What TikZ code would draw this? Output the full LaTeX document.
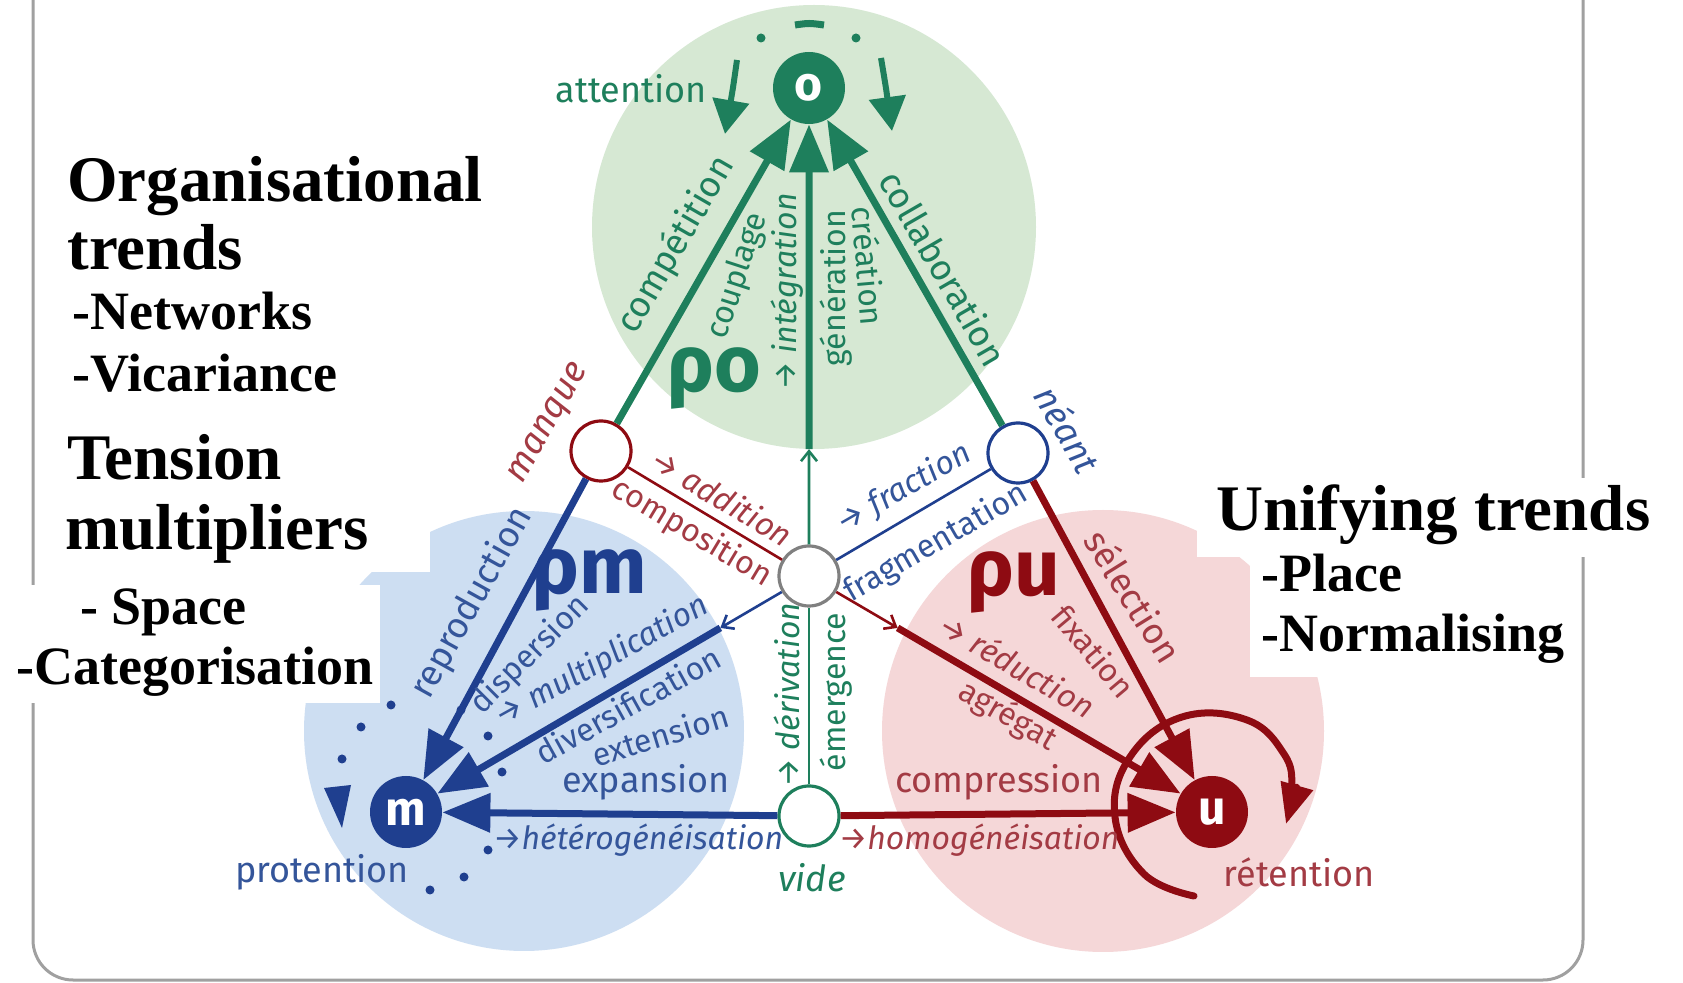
\documentclass[tikz,border=0pt]{standalone}
\usepackage{fontspec}
\setmainfont{Liberation Serif}
\newfontfamily\fira{Fira Sans}
\usetikzlibrary{arrows.meta,calc}
\definecolor{gdark}{HTML}{1E7F5C}
\definecolor{glight}{HTML}{D6E8D3}
\definecolor{bdark}{HTML}{1F3F8F}
\definecolor{blab}{HTML}{34559A}
\definecolor{blight}{HTML}{CDDEF2}
\definecolor{rdark}{HTML}{8E0B12}
\definecolor{rlab}{HTML}{A33B44}
\definecolor{plight}{HTML}{F5D7D8}
\definecolor{framegray}{HTML}{A0A0A0}
\begin{document}
\begin{tikzpicture}[x=0.5pt,y=-0.5pt,
  hub/.style={circle, minimum size=36pt, inner sep=0pt, text=white, font=\fira\fontsize{24}{24}\selectfont\bfseries},
  ring/.style={circle, minimum size=30pt, inner sep=0pt, fill=white, line width=1.6pt},
  lab/.style={font=\fira\fontsize{18}{20}\selectfont, inner sep=0pt},
  slab/.style={font=\fira\fontsize{16}{18}\selectfont, inner sep=0pt},
  bigl/.style={font=\fira\fontsize{40}{40}\selectfont\bfseries, inner sep=0pt},
  tarrow/.style={line width=3.5pt, -{Triangle[length=24pt,width=19pt]}},
  tline/.style={line width=1.3pt},
  smallhead/.style={-{Straight Barb[length=5pt,width=8pt]}},
  title/.style={font=\fontsize{32.5}{36}\selectfont\bfseries, anchor=base west, inner sep=0pt},
  subt/.style={font=\fontsize{27}{30}\selectfont\bfseries, anchor=base west, inner sep=0pt},
]
\useasboundingbox (0,0) rectangle (1683,983);
\fill[white] (0,0) rectangle (1683,983);
% frame
\draw[framegray, line width=1.5pt, rounded corners=20pt] (33,-60) rectangle (1583,980);
% big circles
\fill[glight] (814,227) circle (222);
\fill[blight] (524,731) circle (220);
\fill[plight] (1103,731) circle (221);
% white text boxes
\fill[white] (45,130) rectangle (430,572);
\fill[white] (0,585) rectangle (380,703);
\fill[white] (1197,478) rectangle (1660,557);
\fill[white] (1250,557) rectangle (1575,677);
% nodes
\node[hub, fill=gdark] (o) at (809,88) {o};
\node[hub, fill=bdark] (m) at (406,812) {m};
\node[hub, fill=rdark] (u) at (1212,812) {u};
\node[ring, draw=rdark] (manque) at (601,451) {};
\node[ring, draw=bdark] (neant) at (1018,453) {};
\node[ring, draw=gray] (C) at (809,576) {};
\node[ring, draw=gdark] (vide) at (809,816) {};
\coordinate (Po) at ($(C)!0.26!(o)$);
\coordinate (Pm) at ($(C)!0.22!(m)$);
\coordinate (Pu) at ($(C)!0.22!(u)$);
% decorations around o
\begin{scope}[shift={(o)}]
  \fill[gdark] (-48,-50) circle (4.5);
  \fill[gdark] (47,-50) circle (4.5);
  \draw[gdark, line width=3.5pt] (-14,-63) .. controls (0,-65) .. (15,-63);
  \draw[gdark, line width=3pt, -{Triangle[length=17pt,width=18pt]}] (-72,-28) .. controls (-76,0) .. (-84,46);
  \draw[gdark, line width=3pt, -{Triangle[length=17pt,width=18pt]}] (72,-30) .. controls (77,0) .. (83,43);
\end{scope}
% decorations around m
\begin{scope}[shift={(m)}]
  \foreach \p in {(-15,-107),(-45,-85),(-64,-53),(55,-102),(82,-76),(96,-40),(82,38),(24,78),(58,65)}
    \fill[bdark] \p circle (4.5);
  \fill[bdark] (-82,-24) -- (-55,-27) -- (-64,16) -- cycle;
\end{scope}
% arc around u
\begin{scope}[shift={(u)}]
  \draw[rdark, line width=3.5pt, line cap=round, -{Triangle[length=20pt,width=16pt]}]
    plot[smooth, tension=0.7] coordinates {(-18,84) (-68,62) (-97,5) (-82,-55) (-30,-95) (35,-92) (72,-58) (80,-24) (74,12)};
\end{scope}
% connectors
\draw[tline, gdark] (vide) -- (C);
\draw[tline, gdark, smallhead] (C) -- (Po);
\draw[tarrow, gdark] (Po) -- (o);
\draw[tline, bdark, smallhead] (C) -- (Pm);
\draw[tarrow, bdark] (Pm) -- (m);
\draw[tline, rdark, smallhead] (C) -- (Pu);
\draw[tarrow, rdark] (Pu) -- (u);
\draw[tarrow, gdark] (manque) -- (o);
\draw[tarrow, gdark] (neant) -- (o);
\draw[tarrow, bdark] (manque) -- (m);
\draw[tarrow, rdark] (neant) -- (u);
\draw[tarrow, bdark] (vide) -- (m);
\draw[tarrow, rdark] (vide) -- (u);
\draw[tline, rdark] (manque) -- (C);
\draw[tline, bdark] (neant) -- (C);
% green labels
\node[lab, gdark] (lattention) at (631,89) {attention};
\node[lab, gdark, rotate=60] (lcomp) at (676,245) {compétition};
\node[slab, gdark, rotate=72] (lcoup) at (738,276) {couplage};
\node[slab, gdark, rotate=90] (linteg) at (787,292) {\itshape → intégration};
\node[slab, gdark, rotate=90] (lgen) at (836,288) {génération};
\node[slab, gdark, rotate=-85] (lcrea) at (869,266) {création};
\node[lab, gdark, rotate=-60] (lcoll) at (944,268) {collaboration};
\node[bigl, gdark] (lpo) at (714,378) {ρo};
\node[slab, gdark, rotate=90] (lderiv) at (787,695) {\itshape → dérivation};
\node[slab, gdark, rotate=90] (lemerg) at (836,692) {émergence};
\node[lab, gdark] (lvide) at (812,878) {\itshape vide};
% middle labels
\node[lab, rlab, rotate=60] (lmanque) at (550,424) {\itshape manque};
\node[lab, blab, rotate=-60] (lneant) at (1068,429) {\itshape néant};
\node[slab, rlab, rotate=-31] (ladd) at (722,497) {\itshape → addition};
\node[slab, rlab, rotate=-31] (lcompo) at (692,533) {composition};
\node[slab, blab, rotate=30] (lfrac) at (904,489) {\itshape → fraction};
\node[slab, blab, rotate=30] (lfrag) at (936,543) {fragmentation};
% blue labels
\node[bigl, bdark] (lpm) at (590,580) {ρm};
\node[lab, blab, rotate=61] (lrepro) at (472,603) {reproduction};
\node[slab, blab, rotate=45] (ldisp) at (530,655) {dispersion};
\node[slab, blab, rotate=29] (lmult) at (602,662) {\itshape → multiplication};
\node[slab, blab, rotate=29] (ldiv) at (628,705) {diversification};
\node[slab, blab, rotate=17] (lext) at (660,735) {extension};
\node[lab, blab] (lexp) at (646,782) {expansion};
\node[slab, blab] (lhet) at (638,840) {\itshape →hétérogénéisation};
\node[lab, blab] (lprot) at (322,872) {protention};
% red labels
\node[bigl, rdark] (lpu) at (1014,582) {ρu};
\node[lab, rlab, rotate=-58] (lsel) at (1134,596) {sélection};
\node[slab, rlab, rotate=-50] (lfix) at (1094,651) {fixation};
\node[slab, rlab, rotate=-30] (lred) at (1017,665) {\itshape → réduction};
\node[slab, rlab, rotate=-30] (lagr) at (1008,716) {agrégat};
\node[lab, rlab] (lcompr) at (999,782) {compression};
\node[slab, rlab] (lhom) at (979,840) {\itshape →homogénéisation};
\node[lab, rlab] (lret) at (1299,872) {rétention};
% side texts
\node[title] (t1) at (67,202) {Organisational};
\node[title] (t2) at (67,270) {trends};
\node[subt] (t3) at (72,330) {-Networks};
\node[subt] (t4) at (72,392) {-Vicariance};
\node[title] (t5) at (67,480) {Tension};
\node[title] (t6) at (65,550) {multipliers};
\node[subt] (t7) at (80,625) {- Space};
\node[subt] (t8) at (16,685) {-Categorisation};
\node[title] (t9) at (1216,531) {Unifying trends};
\node[subt] (t10) at (1261,592) {-Place};
\node[subt] (t11) at (1261,652) {-Normalising};
\end{tikzpicture}
\end{document}
